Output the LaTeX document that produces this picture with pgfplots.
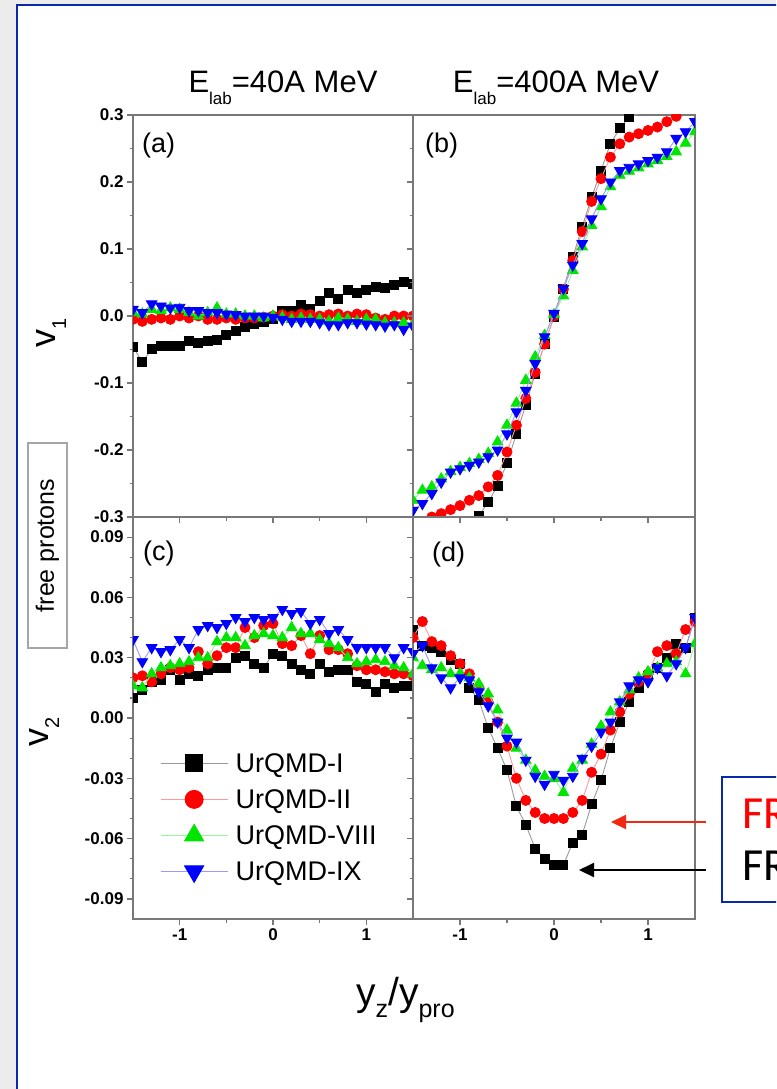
\documentclass[border=0pt]{standalone}
\usepackage{pgfplots}
\pgfplotsset{compat=1.18}
\usepackage{pgfplotstable}
\usepackage{fontspec}
\setmainfont{Liberation Sans}
\newfontfamily\calibri{Carlito}
\usetikzlibrary{arrows.meta}
\newcommand\fs[1]{\fontsize{#1}{#1}\selectfont}
\definecolor{bgGray}{RGB}{236,236,236}
\definecolor{frameBlue}{RGB}{10,40,170}
\definecolor{axGray}{RGB}{120,120,120}
\definecolor{cRed}{RGB}{255,0,0}
\definecolor{cGreen}{RGB}{0,230,0}
\definecolor{cBlue}{RGB}{0,0,255}
\definecolor{arrRed}{RGB}{240,40,20}

\pgfplotstableread{
x I II VIII IX
-1.5 -0.046 -0.005 0.005 0.010
-1.4 -0.069 -0.008 0.003 0.005
-1.3 -0.049 -0.005 0.010 0.018
-1.2 -0.045 -0.003 0.008 0.015
-1.1 -0.045 -0.005 0.012 0.012
-1.0 -0.045 0.000 0.010 0.013
-0.9 -0.037 -0.003 0.005 0.008
-0.8 -0.040 0.000 0.000 0.008
-0.7 -0.037 -0.005 0.005 0.005
-0.6 -0.035 -0.005 0.012 0.005
-0.5 -0.028 -0.003 0.003 0.003
-0.4 -0.023 -0.005 0.003 0.002
-0.3 -0.016 -0.003 0.000 0.000
-0.2 -0.012 -0.003 0.000 0.000
-0.1 -0.009 -0.002 -0.003 0.000
0.0 -0.004 0.000 0.000 -0.002
0.1 0.007 0.002 -0.002 -0.005
0.2 0.007 0.000 -0.005 -0.008
0.3 0.016 0.003 -0.003 -0.008
0.4 0.011 0.002 -0.005 -0.008
0.5 0.023 0.000 -0.005 -0.010
0.6 0.035 0.002 -0.008 -0.013
0.7 0.025 0.003 -0.003 -0.013
0.8 0.039 0.000 -0.005 -0.010
0.9 0.034 0.003 -0.008 -0.010
1.0 0.039 0.002 -0.005 -0.012
1.1 0.044 -0.003 -0.005 -0.013
1.2 0.042 -0.005 -0.010 -0.015
1.3 0.046 0.000 -0.010 -0.013
1.4 0.051 0.000 -0.010 -0.020
1.5 0.048 0.000 -0.012 -0.015
}\tabA

\pgfplotstableread{
x I II VIII IX
-1.5 -0.370 -0.310 -0.275 -0.290
-1.4 -0.360 -0.305 -0.260 -0.280
-1.3 -0.350 -0.300 -0.255 -0.265
-1.2 -0.340 -0.295 -0.243 -0.248
-1.1 -0.330 -0.289 -0.232 -0.233
-1.0 -0.318 -0.283 -0.226 -0.228
-0.9 -0.305 -0.275 -0.220 -0.223
-0.8 -0.298 -0.268 -0.214 -0.218
-0.7 -0.278 -0.255 -0.205 -0.210
-0.6 -0.253 -0.238 -0.188 -0.200
-0.5 -0.220 -0.203 -0.163 -0.176
-0.4 -0.176 -0.163 -0.130 -0.143
-0.3 -0.133 -0.123 -0.096 -0.111
-0.2 -0.086 -0.084 -0.061 -0.071
-0.1 -0.041 -0.042 -0.029 -0.031
0.0 -0.002 0.000 0.002 0.004
0.1 0.041 0.040 0.030 0.041
0.2 0.088 0.083 0.068 0.076
0.3 0.133 0.126 0.103 0.108
0.4 0.177 0.171 0.135 0.145
0.5 0.217 0.205 0.163 0.175
0.6 0.257 0.237 0.193 0.200
0.7 0.280 0.257 0.210 0.217
0.8 0.297 0.267 0.216 0.222
0.9 0.302 0.272 0.221 0.227
1.0 0.310 0.277 0.227 0.232
1.1 0.320 0.282 0.232 0.237
1.2 0.330 0.290 0.238 0.245
1.3 0.340 0.298 0.245 0.265
1.4 0.350 0.305 0.258 0.275
1.5 0.360 0.310 0.275 0.290
}\tabB

\pgfplotstableread{
x I II VIII IX
-1.5 0.010 0.020 0.016 0.039
-1.4 0.014 0.021 0.015 0.028
-1.3 0.018 0.018 0.022 0.035
-1.2 0.019 0.022 0.025 0.033
-1.1 0.024 0.025 0.026 0.034
-1.0 0.019 0.024 0.027 0.039
-0.9 0.022 0.025 0.028 0.035
-0.8 0.021 0.033 0.030 0.044
-0.7 0.024 0.027 0.030 0.046
-0.6 0.025 0.031 0.038 0.045
-0.5 0.025 0.035 0.040 0.047
-0.4 0.030 0.035 0.040 0.050
-0.3 0.031 0.045 0.036 0.048
-0.2 0.027 0.040 0.041 0.050
-0.1 0.025 0.046 0.042 0.049
0.0 0.032 0.047 0.041 0.050
0.1 0.031 0.037 0.040 0.054
0.2 0.027 0.036 0.045 0.052
0.3 0.024 0.041 0.042 0.053
0.4 0.022 0.032 0.042 0.047
0.5 0.027 0.041 0.039 0.049
0.6 0.023 0.034 0.037 0.042
0.7 0.024 0.034 0.035 0.044
0.8 0.024 0.032 0.030 0.039
0.9 0.018 0.026 0.027 0.035
1.0 0.017 0.024 0.028 0.035
1.1 0.013 0.024 0.029 0.035
1.2 0.017 0.023 0.028 0.035
1.3 0.015 0.022 0.026 0.030
1.4 0.016 0.022 0.025 0.035
1.5 0.016 0.021 0.022 0.033
}\tabC

\pgfplotstableread{
x I II VIII IX
-1.5 0.044 0.040 0.030 0.032
-1.4 0.036 0.048 0.026 0.036
-1.3 0.035 0.038 0.024 0.025
-1.2 0.033 0.036 0.025 0.020
-1.1 0.029 0.031 0.022 0.015
-1.0 0.027 0.027 0.022 0.020
-0.9 0.015 0.022 0.020 0.019
-0.8 0.009 0.015 0.017 0.013
-0.7 -0.005 0.008 0.012 0.006
-0.6 -0.015 -0.002 0.004 -0.002
-0.5 -0.026 -0.014 -0.006 -0.010
-0.4 -0.044 -0.030 -0.015 -0.012
-0.3 -0.053 -0.041 -0.021 -0.021
-0.2 -0.065 -0.047 -0.026 -0.029
-0.1 -0.070 -0.050 -0.029 -0.033
0.0 -0.073 -0.050 -0.030 -0.028
0.1 -0.073 -0.050 -0.037 -0.031
0.2 -0.062 -0.047 -0.025 -0.029
0.3 -0.058 -0.041 -0.021 -0.020
0.4 -0.043 -0.027 -0.013 -0.014
0.5 -0.031 -0.018 -0.004 -0.007
0.6 -0.015 -0.006 0.003 -0.002
0.7 -0.002 0.003 0.008 0.008
0.8 0.008 0.012 0.014 0.016
0.9 0.015 0.018 0.020 0.019
1.0 0.021 0.022 0.023 0.018
1.1 0.025 0.033 0.025 0.025
1.2 0.030 0.036 0.027 0.021
1.3 0.037 0.032 0.028 0.027
1.4 0.035 0.044 0.022 0.035
1.5 0.050 0.048 0.037 0.050
}\tabD

\pgfplotsset{
  panel/.style={scale only axis, width=280pt, height=402pt,
    xmin=-1.5, xmax=1.5, axis line style={axGray, line width=1.5pt},
    tick align=outside, tick pos=left,
    major tick length=6pt, minor tick length=3.5pt,
    tick style={axGray, line width=1.2pt},
    xtick={-1,0,1}, xticklabels={-1,0,1}, minor x tick num=1,
    tick label style={font=\bfseries\fs{17}},
    clip marker paths=true},
  top/.style={ymin=-0.3, ymax=0.3, ytick={-0.3,-0.2,-0.1,0,0.1,0.2,0.3},
    yticklabels={-0.3,-0.2,-0.1,0.0,0.1,0.2,0.3}, minor y tick num=1, xticklabels={}},
  bot/.style={ymin=-0.1, ymax=0.1, ytick={-0.09,-0.06,-0.03,0,0.03,0.06,0.09},
    yticklabels={-0.09,-0.06,-0.03,0.00,0.03,0.06,0.09}, minor y tick num=2},
  sI/.style={draw=black!40, line width=0.9pt, mark=square*, mark size=4.5pt, mark options={solid, draw=black, fill=black}},
  sII/.style={draw=cRed!40, line width=0.9pt, mark=*, mark size=5pt, mark options={solid, draw=cRed, fill=cRed}},
  sVIII/.style={draw=cGreen!40, line width=0.9pt, mark=triangle*, mark size=6pt, mark options={solid, draw=cGreen, fill=cGreen}},
  sIX/.style={draw=cBlue!40, line width=0.9pt, mark=triangle*, mark size=6pt, mark options={solid, rotate=180, draw=cBlue, fill=cBlue}},
}

\begin{document}
\begin{tikzpicture}
\useasboundingbox (0pt,0pt) rectangle (776pt,-1089pt);
\clip (0pt,0pt) rectangle (776pt,-1089pt);
\begin{scope}[x=1pt,y=-1pt]
  \fill[bgGray] (0,0) rectangle (776,1089);
  \fill[white] (17,5) rectangle (800,1100);
  \draw[frameBlue, line width=2pt] (17,1100) -- (17,5) -- (800,5);
\end{scope}

% (a)
\begin{axis}[panel, top, at={(133pt,-115pt)}, anchor=north west]
  \addplot[sI] table[x=x,y=I]{\tabA};
  \addplot[sII] table[x=x,y=II]{\tabA};
  \addplot[sVIII] table[x=x,y=VIII]{\tabA};
  \addplot[sIX] table[x=x,y=IX]{\tabA};
\end{axis}
% (b)
\begin{axis}[panel, top, at={(413pt,-115pt)}, anchor=north west, width=282pt, yticklabels={}]
  \addplot[sI] table[x=x,y=I]{\tabB};
  \addplot[sII] table[x=x,y=II]{\tabB};
  \addplot[sVIII] table[x=x,y=VIII]{\tabB};
  \addplot[sIX] table[x=x,y=IX]{\tabB};
\end{axis}
% (c)
\begin{axis}[panel, bot, at={(133pt,-517pt)}, anchor=north west,
  legend style={at={(axis description cs:0.0964,0.415)}, anchor=north west,
    draw=none, fill=none, inner sep=0pt, row sep=14pt, font=\fs{27},
    nodes={inner xsep=5pt, inner ysep=0pt}},
  legend cell align=left,
  legend image code/.code={\path[draw=none,fill=none] (0pt,-11pt) rectangle (70pt,11pt);
    \draw[mark repeat=2,mark phase=2,#1] plot coordinates {(0pt,0pt) (33.5pt,0pt) (67pt,0pt)};}]
  \addplot[sI, forget plot] table[x=x,y=I]{\tabC};
  \addplot[sII, forget plot] table[x=x,y=II]{\tabC};
  \addplot[sVIII, forget plot] table[x=x,y=VIII]{\tabC};
  \addplot[sIX, forget plot] table[x=x,y=IX]{\tabC};
  \addlegendimage{sI, mark size=8.5pt}
  \addlegendentry{UrQMD-I}
  \addlegendimage{sII, mark size=9pt}
  \addlegendentry{UrQMD-II}
  \addlegendimage{sVIII, mark size=11pt}
  \addlegendentry{UrQMD-VIII}
  \addlegendimage{sIX, mark size=11pt}
  \addlegendentry{UrQMD-IX}
\end{axis}
% (d)
\begin{axis}[panel, bot, at={(413pt,-517pt)}, anchor=north west, width=282pt, yticklabels={}]
  \addplot[sI] table[x=x,y=I]{\tabD};
  \addplot[sII] table[x=x,y=II]{\tabD};
  \addplot[sVIII] table[x=x,y=VIII]{\tabD};
  \addplot[sIX] table[x=x,y=IX]{\tabD};
\end{axis}

\begin{scope}[x=1pt,y=-1pt]
  % titles
  \node[anchor=base, font=\fs{31}, inner sep=0pt] at (283,93) {E\raisebox{-12pt}{\fs{17}lab}=40A MeV};
  \node[anchor=base, font=\fs{31}, inner sep=0pt] at (556,93) {E\raisebox{-12pt}{\fs{17}lab}=400A MeV};
  % panel labels
  \node[anchor=base west, font=\fs{27}, inner sep=0pt] at (142,152) {(a)};
  \node[anchor=base west, font=\fs{27}, inner sep=0pt] at (425,152) {(b)};
  \node[anchor=base west, font=\fs{27}, inner sep=0pt] at (143,560) {(c)};
  \node[anchor=base west, font=\fs{27}, inner sep=0pt] at (432,561) {(d)};
  % y labels
  \node[rotate=90, anchor=base west, font=\fs{36}, inner sep=0pt] at (55,348) {v\raisebox{-11pt}{\fs{20}1}};
  \node[rotate=90, anchor=base west, font=\fs{36}, inner sep=0pt] at (48,747) {v\raisebox{-11pt}{\fs{20}2}};
  % x label
  \node[anchor=base west, font=\fs{39}, inner sep=0pt] at (356,1005) {y\raisebox{-12pt}{\fs{25}z}/y\raisebox{-12pt}{\fs{25}pro}};
  % free protons box
  \draw[black!35, line width=1.5pt] (28,443) rectangle (67,648);
  \node[rotate=90, font=\fs{25}, inner sep=0pt] at (47.5,545.5) {free protons};
  % annotation boxes and arrows (cut off at the picture's right edge, as in the original)
  \draw[frameBlue, line width=2pt] (722,777) rectangle (820,902);
  \node[anchor=base west, font=\calibri\fs{46}, text=cRed, inner sep=0pt] at (742,828) {FR};
  \node[anchor=base west, font=\calibri\fs{46}, text=black, inner sep=0pt] at (742,880) {FR};
  \draw[arrRed, line width=2pt, -{Triangle[length=15pt,width=14pt]}] (706,822) -- (611,822);
  \draw[black, line width=2pt, -{Triangle[length=15pt,width=14pt]}] (706,870) -- (579,870);
\end{scope}
\end{tikzpicture}
\end{document}
